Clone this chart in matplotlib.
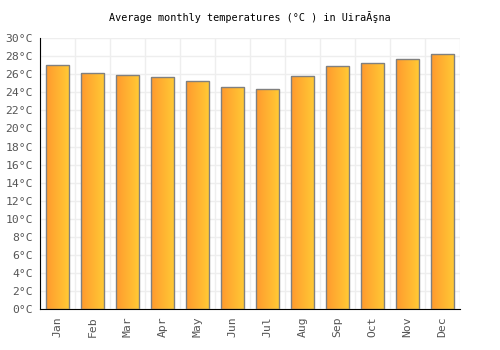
import numpy as np
import matplotlib
matplotlib.use("Agg")
import matplotlib.pyplot as plt
from matplotlib.colors import LinearSegmentedColormap

months = ['Jan', 'Feb', 'Mar', 'Apr', 'May', 'Jun', 'Jul', 'Aug', 'Sep', 'Oct', 'Nov', 'Dec']
temps = [27.0, 26.1, 25.9, 25.7, 25.2, 24.6, 24.4, 25.8, 26.9, 27.2, 27.7, 28.2]
yticks = list(range(0, 31, 2))
ylabels = ['{}°C'.format(t) for t in yticks]

plt.rcParams['font.family'] = ['DejaVu Sans Mono']

fig = plt.figure(figsize=(5, 3.5), dpi=100)
ax = fig.add_axes([0.08, 0.117, 0.84, 0.774])

x = np.arange(len(months))
cmap = LinearSegmentedColormap.from_list('grad', ['#ff9a2e', '#ffcb35'])
grad = np.linspace(0, 1, 100).reshape(1, -1)

bars = ax.bar(x, temps, width=0.66, color='none', edgecolor='#808080', linewidth=1.0, zorder=3)
for b in bars:
    x0, y0 = b.get_x(), b.get_y()
    w, h = b.get_width(), b.get_height()
    im = ax.imshow(grad, cmap=cmap, aspect='auto', extent=[x0, x0 + w, y0, y0 + h], zorder=2)
    im.set_clip_path(b)

ax.set_xlim(-0.5, len(months) - 0.5)
ax.set_ylim(0, 30)
ax.set_xticks(x)
ax.set_xticklabels(months, rotation=90, fontsize=8.2, color='#555555')
ax.set_yticks(yticks)
ax.set_yticklabels(ylabels, fontsize=8.2, color='#555555')
ax.set_xticks(np.arange(-0.5, len(months), 1), minor=True)
ax.grid(True, which='minor', axis='x', color='#eeeeee', linewidth=1, zorder=0)
ax.grid(True, which='major', axis='y', color='#eeeeee', linewidth=1, zorder=0)
ax.tick_params(axis='both', which='both', length=0, pad=5)
for s in ['top', 'right']:
    ax.spines[s].set_visible(False)
ax.spines['left'].set_color('black')
ax.spines['bottom'].set_color('black')
ax.set_axisbelow(True)

ax.set_title('Average monthly temperatures (°C ) in UiraĂşna', fontsize=7.3, pad=12)

fig.savefig('out.png', dpi=100)
